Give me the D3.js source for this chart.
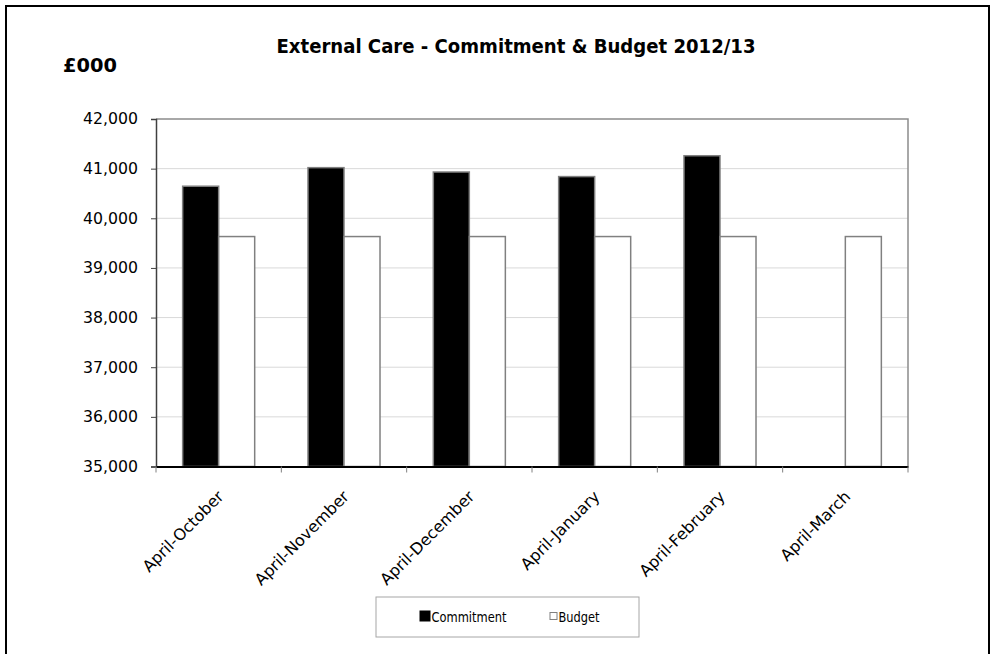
<!DOCTYPE html>
<html>
<head>
<meta charset="utf-8">
<script src="https://cdn.jsdelivr.net/npm/d3@7"></script>
<style>
  html, body { margin: 0; padding: 0; background: #fff; }
  svg { display: block; }
  text { font-family: "DejaVu Sans", Verdana, sans-serif; fill: #000; }
</style>
</head>
<body>
<svg id="chart" width="993" height="654"></svg>
<script>
// Cumulative spend, £000
const categories = ["April-October", "April-November", "April-December", "April-January", "April-February", "April-March"];
const seriesNames = ["Commitment", "Budget"];
const commitment = [40646, 41020, 40932, 40840, 41260, null];
const budget = [39632, 39632, 39632, 39632, 39632, 39632];
const yTicks = [35000, 36000, 37000, 38000, 39000, 40000, 41000, 42000];

const svg = d3.select("#chart");
const plot = { left: 156, right: 908, top: 119, bottom: 466.5 };

// Outer frame
svg.append("rect")
  .attr("x", 6).attr("y", 6).attr("width", 983).attr("height", 660)
  .attr("fill", "none").attr("stroke", "#000").attr("stroke-width", 2);

// Titles
svg.append("text")
  .attr("x", 516).attr("y", 53)
  .attr("text-anchor", "middle")
  .attr("font-size", 19).attr("font-weight", "bold")
  .attr("textLength", 479).attr("lengthAdjust", "spacingAndGlyphs")
  .text("External Care - Commitment & Budget 2012/13");

svg.append("text")
  .attr("x", 63).attr("y", 72)
  .attr("font-size", 19).attr("font-weight", "bold")
  .attr("textLength", 54).attr("lengthAdjust", "spacingAndGlyphs")
  .text("£000");

// Scales
const x = d3.scaleBand().domain(categories).range([plot.left, plot.right]).padding(0);
const xs = d3.scaleBand().domain(seriesNames).range([0, x.bandwidth()])
  .paddingInner(0).paddingOuter(0.74);
const y = d3.scaleLinear().domain([35000, 42000]).range([plot.bottom, plot.top]);

// Gridlines
svg.append("g").selectAll("line").data(yTicks.slice(1, -1)).join("line")
  .attr("x1", plot.left).attr("x2", plot.right)
  .attr("y1", d => y(d)).attr("y2", d => y(d))
  .attr("stroke", "#d9d9d9").attr("stroke-width", 1);

// Plot frame (top and right)
svg.append("path")
  .attr("d", `M${plot.left},${plot.top}H${plot.right}V${plot.bottom}`)
  .attr("fill", "none").attr("stroke", "#8c8c8c").attr("stroke-width", 1.5);

// Bars
const rows = categories.map((c, i) => ({ cat: c, Commitment: commitment[i], Budget: budget[i] }));
const groups = svg.append("g").selectAll("g").data(rows).join("g")
  .attr("transform", d => `translate(${x(d.cat)},0)`);
groups.selectAll("rect")
  .data(d => seriesNames.filter(s => d[s] != null).map(s => ({ s, v: d[s] })))
  .join("rect")
  .attr("x", d => xs(d.s))
  .attr("width", xs.bandwidth())
  .attr("y", d => y(d.v))
  .attr("height", d => y(35000) - y(d.v))
  .attr("fill", d => d.s === "Commitment" ? "#000" : "#fff")
  .attr("stroke", "#808080").attr("stroke-width", 1.5);

// Y axis
const yAxis = svg.append("g")
  .attr("transform", `translate(${plot.left},0)`)
  .call(d3.axisLeft(y).tickValues(yTicks).tickFormat(d3.format(",")).tickSize(5).tickPadding(13));
yAxis.select(".domain").attr("stroke", "#404040").attr("stroke-width", 1.5);
yAxis.selectAll(".tick line").attr("stroke", "#404040");
yAxis.selectAll(".tick text").attr("font-size", 15)
  .attr("font-family", "DejaVu Sans, Verdana, sans-serif")
  .attr("textLength", 55).attr("lengthAdjust", "spacingAndGlyphs");

// X axis
const xAxis = svg.append("g")
  .attr("transform", `translate(0,${plot.bottom})`)
  .call(d3.axisBottom(x).tickSize(0).tickFormat(""));
xAxis.select(".domain").attr("stroke", "#000").attr("stroke-width", 2);
xAxis.selectAll(".tick").remove();
// Category boundary ticks
svg.append("g").selectAll("line")
  .data(categories.map(c => x(c)).concat([plot.right]))
  .join("line")
  .attr("x1", d => d).attr("x2", d => d)
  .attr("y1", plot.bottom).attr("y2", plot.bottom + 6)
  .attr("stroke", "#808080").attr("stroke-width", 1);
// Category labels
svg.append("g").selectAll("text").data(categories).join("text")
  .attr("transform", d => `translate(${x(d) + x.bandwidth() / 2 + 6},${plot.bottom + 31}) rotate(-45)`)
  .attr("text-anchor", "end")
  .attr("font-family", "Open Sans, sans-serif")
  .attr("font-size", 16)
  .text(d => d);

// Legend
const lg = svg.append("g");
lg.append("rect")
  .attr("x", 376).attr("y", 597).attr("width", 263).attr("height", 40)
  .attr("fill", "#fff").attr("stroke", "#a6a6a6").attr("stroke-width", 1);
const legendItems = [
  { name: seriesNames[0], x: 420, size: 10, fill: "#000", stroke: "#000", w: 75 },
  { name: seriesNames[1], x: 550, size: 7, fill: "#fff", stroke: "#808080", w: 41 }
];
legendItems.forEach(it => {
  lg.append("rect")
    .attr("x", it.x).attr("y", 617 - it.size / 2 - 1)
    .attr("width", it.size).attr("height", it.size)
    .attr("fill", it.fill).attr("stroke", it.stroke).attr("stroke-width", 1);
  lg.append("text")
    .attr("x", it.x + it.size + 1.5).attr("y", 621.5)
    .attr("font-family", "Open Sans, sans-serif")
    .attr("font-size", 13.5)
    .attr("textLength", it.w).attr("lengthAdjust", "spacingAndGlyphs")
    .text(it.name);
});
</script>
</body>
</html>
